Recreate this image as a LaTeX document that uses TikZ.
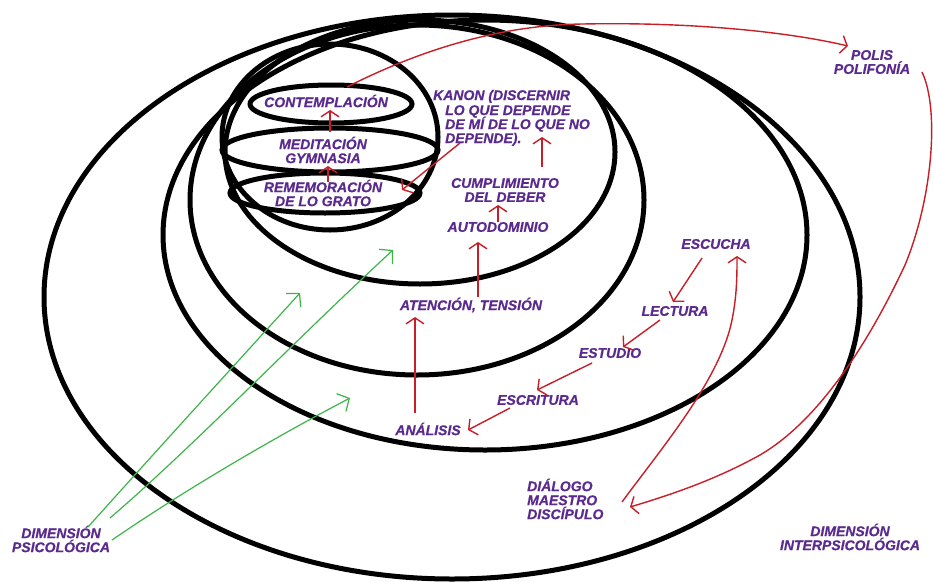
\documentclass[tikz,border=0pt]{standalone}
\usepackage{fontspec}
\setmainfont{Liberation Sans}
\newfontface\lblface{Liberation Sans Bold Italic}[FakeBold=0.6]
\usetikzlibrary{arrows.meta}
\definecolor{txt}{HTML}{5B2A8E}
\definecolor{rd}{HTML}{C81E28}
\definecolor{gr}{HTML}{3DB54A}
\begin{document}
\begin{tikzpicture}[x=1pt,y=-1pt,
 lbl/.style={font=\lblface\fontsize{14}{14}\selectfont, text=txt, inner sep=0pt, align=center},
 ring/.style={line width=5pt, draw=black},
 rarr/.style={draw=rd, line width=1.4pt, -{Straight Barb[length=6pt,width=18pt]}},
 garr/.style={draw=gr, line width=1.2pt, -{Straight Barb[length=9pt,width=20pt]}}]
\useasboundingbox (0,0) rectangle (933,581);
\fill[white] (0,0) rectangle (933,581);

% rings
\draw[ring] (452,297) ellipse [x radius=408pt, y radius=282pt];
\draw[ring] (485,235) ellipse [x radius=322pt, y radius=215pt];
\draw[ring] (417,200) ellipse [x radius=227pt, y radius=175pt];
\draw[ring] (420,152) ellipse [x radius=195pt, y radius=132pt];
\draw[ring] (330,137) ellipse [x radius=108pt, y radius=93pt];
\draw[ring] (331,104) ellipse [x radius=81pt, y radius=19pt];
\draw[ring] (330,150) ellipse [x radius=108pt, y radius=22pt];
\draw[ring] (325,193) ellipse [x radius=95pt, y radius=20pt];

% labels
\node[lbl] (cont) at (326,101) {CONTEMPLACIÓN};
\node[lbl] (medit) at (323,150) {MEDITACIÓN\\GYMNASIA};
\node[lbl] (remem) at (323,193) {REMEMORACIÓN\\DE LO GRATO};
\node[lbl, anchor=base west] (kanon1) at (433,100) {KANON (DISCERNIR};
\node[lbl, anchor=base west] (kanon2) at (445,115) {LO QUE DEPENDE};
\node[lbl, anchor=base west] (kanon3) at (445,129) {DE MÍ DE LO QUE NO};
\node[lbl, anchor=base west] (kanon4) at (445,143) {DEPENDE).};
\node[lbl] (cumpl) at (505,190) {CUMPLIMIENTO\\DEL DEBER};
\node[lbl] (auto) at (498,227) {AUTODOMINIO};
\node[lbl] (aten) at (471,305) {ATENCIÓN, TENSIÓN};
\node[lbl] (anal) at (428,429) {ANÁLISIS};
\node[lbl] (escr) at (538,400) {ESCRITURA};
\node[lbl] (estu) at (610,353) {ESTUDIO};
\node[lbl] (lect) at (675,311) {LECTURA};
\node[lbl] (escu) at (716,244) {ESCUCHA};
\node[lbl] (polis) at (872,62) {POLIS\\POLIFONÍA};
\node[lbl, align=left, anchor=west] (dial) at (527,499) {DIÁLOGO\\MAESTRO\\DISCÍPULO};
\node[lbl] (dimi) at (850,537) {DIMENSIÓN\\INTERPSICOLÓGICA};
\node[lbl] (dimp) at (61,539) {DIMENSIÓN\\PSICOLÓGICA};

% red arrows
\draw[rarr] ([shift={(21,-14)}]cont.center) .. controls (420,50) and (500,25) .. (583,24) .. controls (680,22) and (780,30) .. ([shift={(-24,-16)}]polis.center);
\draw[rarr] ([shift={(50,10)}]polis.center) .. controls (940,110) and (932,200) .. (905,265) .. controls (870,340) and (820,420) .. (760,455) .. controls (715,480) and (670,495) .. ([shift={(103,8)}]dial.west);
\draw[rarr] ([shift={(95,3)}]dial.west) .. controls (660,450) and (720,380) .. (732,320) .. controls (737,295) and (737,275) .. ([shift={(21,12)}]escu.center);
\draw[rarr] ([shift={(-14,14)}]escu.center) -- ([shift={(-2,-9)}]lect.center);
\draw[rarr] ([shift={(-15,9)}]lect.center) -- ([shift={(13,-6)}]estu.center);
\draw[rarr] ([shift={(-18,10)}]estu.center) -- ([shift={(-1,-10)}]escr.center);
\draw[rarr] ([shift={(-28,8)}]escr.center) -- ([shift={(40,1)}]anal.center);
\draw[rarr] ([shift={(-13,-16)}]anal.center) -- ([shift={(-56,12)}]aten.center);
\draw[rarr] ([shift={(7,-8)}]aten.center) -- ([shift={(-20,15)}]auto.center);
\draw[rarr] ([shift={(0,-5)}]auto.center) -- ([shift={(-7,15)}]cumpl.center);
\draw[rarr] ([shift={(37,-23)}]cumpl.center) -- ([shift={(97,-6)}]kanon4.base west);
\draw[rarr] ([shift={(15,0)}]kanon4.base west) -- ([shift={(79,-3)}]remem.center);
\draw[rarr] ([shift={(5,-11)}]remem.center) -- ([shift={(5,16)}]medit.center);
\draw[rarr] ([shift={(7,-18)}]medit.center) -- ([shift={(4,9)}]cont.center);

% green arrows
\coordinate (g1) at (300,293);
\coordinate (g2) at (393,250);
\coordinate (g3) at (350,398);
\draw[garr] ([shift={(27,-12)}]dimp.center) .. controls (158,449) and (229,371) .. (g1);
\draw[garr] ([shift={(49,-21)}]dimp.center) .. controls (195,445) and (290,345) .. (g2);
\draw[garr] ([shift={(51,1)}]dimp.center) .. controls (185,490) and (270,440) .. (g3);
\end{tikzpicture}
\end{document}
